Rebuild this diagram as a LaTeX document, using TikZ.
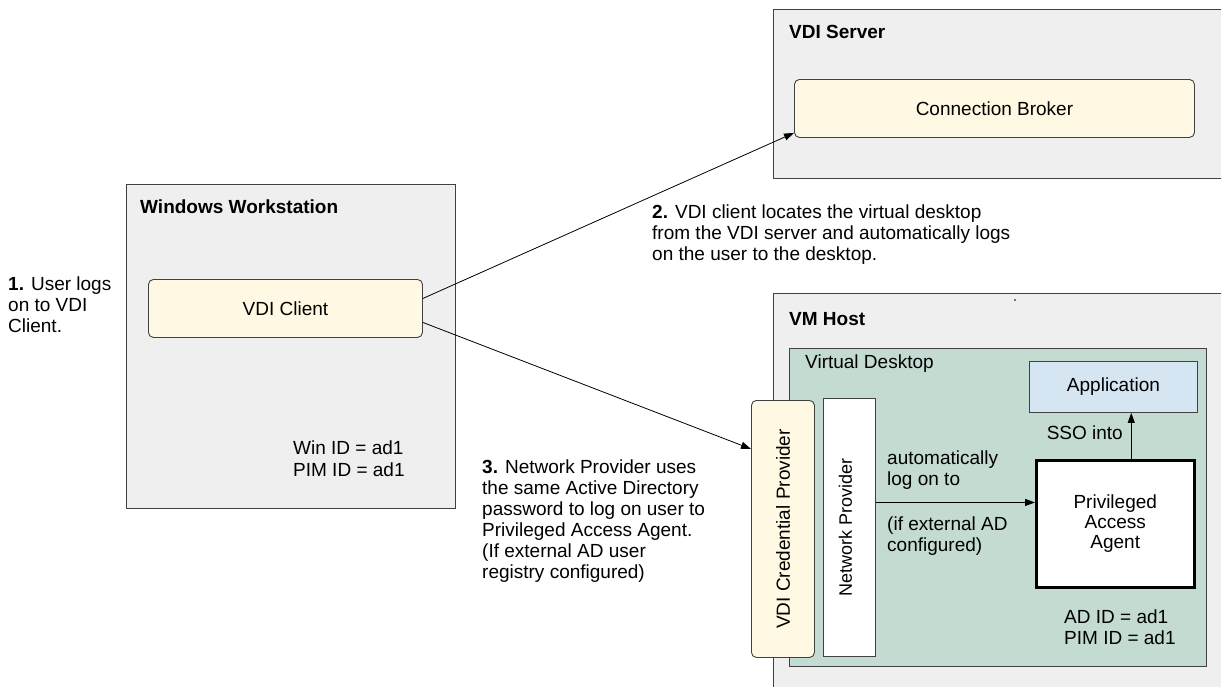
\documentclass[tikz,border=0pt]{standalone}
\usepackage{fontspec}
\setmainfont{Liberation Sans}
\usetikzlibrary{arrows.meta,calc}
\definecolor{boxgrey}{HTML}{EFEFEF}
\definecolor{boxyellow}{HTML}{FFF8E2}
\definecolor{vdgreen}{HTML}{C3DBD1}
\definecolor{appblue}{HTML}{D5E5F2}
\definecolor{edge}{HTML}{404040}
\tikzset{
  container/.style={draw=edge, line width=0.9pt, fill=boxgrey},
  ybox/.style={draw=edge, line width=0.9pt, fill=boxyellow, rounded corners=5pt, inner sep=0pt, anchor=north west, align=center},
  plainbox/.style={draw=edge, line width=0.9pt, inner sep=0pt, anchor=north west, align=center},
  title/.style={font=\fontsize{19}{21}\selectfont\bfseries, anchor=west, inner sep=0pt},
  txt/.style={anchor=north west, inner sep=0pt, align=left},
  arr/.style={draw=black, line width=0.8pt, -{Triangle[length=10pt,width=7pt]}},
}
\begin{document}
\begin{tikzpicture}[x=1pt,y=-1pt,font=\fontsize{19}{21}\selectfont]
\useasboundingbox (0,0) rectangle (1221,686);
% containers
\fill[boxgrey] (773,9) rectangle (1240,178);
\draw[edge, line width=0.9pt] (1240,9) -- (773,9) -- (773,178) -- (1240,178);
\node[title] (vdiserver) at (789,32) {VDI Server};

\draw[container] (126,184) rectangle (455,508);
\node[title] (ws) at (140,207) {Windows Workstation};

\fill[boxgrey] (773,293) rectangle (1240,700);
\draw[edge, line width=0.9pt] (1240,293) -- (773,293) -- (773,700);
\node[title] (vmhost) at (789,319) {VM Host};
\fill[black!55] (1014,299) rectangle (1016,301);

\node[plainbox, fill=vdgreen, minimum width=417pt, minimum height=318pt] (vd) at (789,348) {};
\node[anchor=west, inner sep=0pt] (vdlabel) at (805,364) {Virtual Desktop};

% boxes
\node[ybox, minimum width=400pt, minimum height=58pt] (broker) at (794,79) {Connection Broker};
\node[ybox, minimum width=274pt, minimum height=58pt] (client) at (148,279) {VDI Client};
\node[ybox, minimum width=63pt, minimum height=257pt] (cred) at (751,400) {};
\node[rotate=90, inner sep=0pt] (credlabel) at (cred.center) {VDI Credential Provider};
\node[plainbox, fill=white, minimum width=52pt, minimum height=258pt] (np) at (823,398) {};
\node[rotate=90, inner sep=0pt, font=\fontsize{18}{20}\selectfont] (nplabel) at ([xshift=-4pt]np.center) {Network Provider};
\node[plainbox, fill=appblue, minimum width=168pt, minimum height=51pt] (app) at (1029,361) {Application};
\node[plainbox, fill=white, draw=black, line width=2.5pt, minimum width=158pt, minimum height=127pt, font=\fontsize{19}{20}\selectfont] (paa) at (1035,459) {Privileged\\Access\\Agent};

% texts
\node[txt] (t1) at (8,277) {\textbf{1.} User logs\\on to VDI\\Client.};
\node[txt] (t2) at (652,205) {\textbf{2.} VDI client locates the virtual desktop\\from the VDI server and automatically logs\\on the user to the desktop.};
\node[txt] (t3) at (482,460) {\textbf{3.} Network Provider uses\\the same Active Directory\\password to log on user to\\Privileged Access Agent.\\(If external AD user\\registry configured)};
\node[txt, font=\fontsize{19}{22}\selectfont] (winid) at (293,441) {Win ID = ad1\\PIM ID = ad1};
\node[txt] (adid) at (1064,610) {AD ID = ad1\\PIM ID = ad1};
\node[txt] (auto) at (887,451) {automatically\\log on to};
\node[txt] (ifext) at (887,517) {(if external AD\\configured)};

% connectors
\draw[arr] ([yshift=10pt]client.east) -- ([yshift=5pt]broker.south west);
\draw[arr] ([yshift=-14pt]client.east) -- ([yshift=80pt]cred.west);
\draw[arr] ([yshift=25pt]np.east) -- ([yshift=25pt]np.east -| paa.west);
\draw[arr] ([xshift=16pt]paa.north) -- ([xshift=16pt]paa.north |- app.south);
\node[anchor=east, inner sep=0pt] (sso) at (1123,433) {SSO into};
\end{tikzpicture}
\end{document}
